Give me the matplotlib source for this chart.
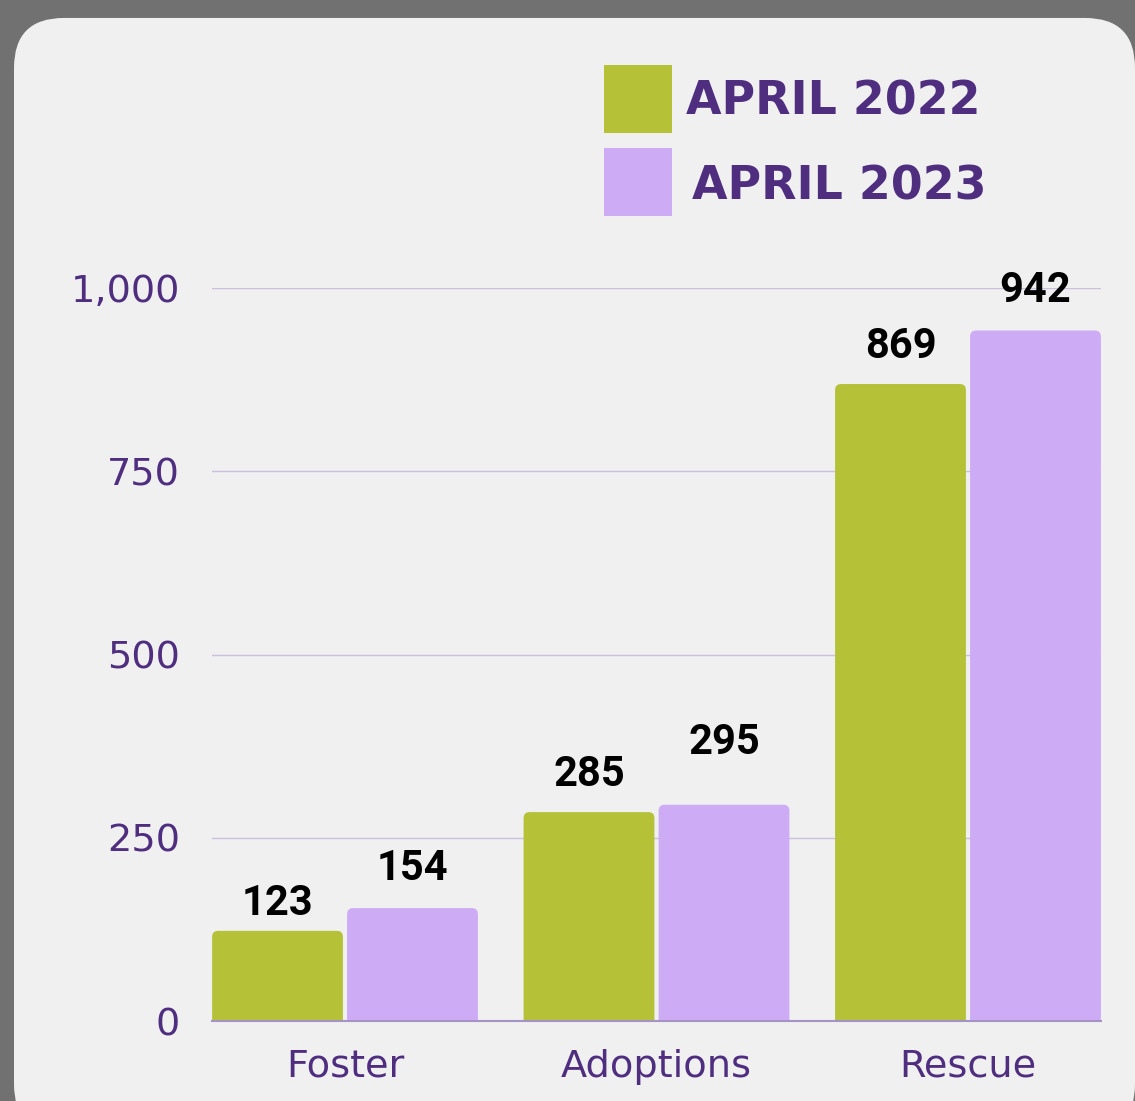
import matplotlib.pyplot as plt
from matplotlib.patches import FancyBboxPatch, Rectangle
import numpy as np

# data
categories = ["Foster", "Adoptions", "Rescue"]
april_2022 = [123, 285, 869]
april_2023 = [154, 295, 942]
series_names = ["APRIL 2022", "APRIL 2023"]
yticks = [0, 250, 500, 750, 1000]
ytick_labels = ["0", "250", "500", "750", "1,000"]

# label gaps above bars (points), placed by hand in the original
gap_2022 = [5, 12, 12]
gap_2023 = [14, 30, 14]

green = "#b5c238"
lilac = "#ceabf5"
purple = "#4f2d7f"

fig = plt.figure(figsize=(11.35, 11.01), dpi=100)
fig.patch.set_facecolor("#717171")

# rounded light panel
panel = FancyBboxPatch((14 / 1135, -0.03), 1 - 14 / 1135, 0.9837 + 0.03,
                       boxstyle="round,pad=0,rounding_size=0.044",
                       mutation_aspect=1135 / 1101,
                       transform=fig.transFigure, facecolor="#f0f0f0",
                       edgecolor="none", zorder=0)
fig.add_artist(panel)

ax = fig.add_axes([212 / 1135, 80 / 1101, 889 / 1135, 733 / 1101])
ax.set_facecolor("none")

x = np.arange(len(categories))
off = 0.2167
w = 0.42
b1 = ax.bar(x - off, april_2022, w, color=green)
b2 = ax.bar(x + off, april_2023, w, color=lilac)

ax.set_xlim(-0.427, 2.427)
ax.set_ylim(0, 1000)

# swap the square bars for ones with slightly rounded tops
xpx = 889 / (2.427 + 0.427)
ypx = 733 / 1000
for bars, col in ((b1, green), (b2, lilac)):
    for r in bars:
        r.set_visible(False)
        p = FancyBboxPatch((r.get_x(), -20), r.get_width(), r.get_height() + 20,
                           boxstyle="round,pad=0,rounding_size=%f" % (6 / xpx),
                           mutation_aspect=xpx / ypx,
                           facecolor=col, edgecolor="none", zorder=2)
        ax.add_patch(p)

for i in range(len(categories)):
    ax.annotate(str(april_2022[i]), (x[i] - off, april_2022[i]),
                xytext=(0, gap_2022[i]), textcoords="offset points",
                ha="center", va="bottom", fontsize=30, fontweight="bold",
                family=["Roboto", "DejaVu Sans"], color="black", zorder=5,
                annotation_clip=False)
    ax.annotate(str(april_2023[i]), (x[i] + off, april_2023[i]),
                xytext=(0, gap_2023[i]), textcoords="offset points",
                ha="center", va="bottom", fontsize=30, fontweight="bold",
                family=["Roboto", "DejaVu Sans"], color="black", zorder=5,
                annotation_clip=False)

ax.set_yticks(yticks)
ax.set_yticklabels(ytick_labels)
ax.set_xticks(x)
ax.set_xticklabels(categories)
ax.tick_params(axis="both", length=0, labelsize=27.5, labelcolor=purple)
ax.tick_params(axis="y", pad=23)
ax.tick_params(axis="x", pad=20)

ax.grid(axis="y", color="#cbc1dd", linewidth=1)
ax.set_axisbelow(True)
for s in ["top", "right", "left"]:
    ax.spines[s].set_visible(False)
ax.spines["bottom"].set_color("#a493c4")
ax.spines["bottom"].set_linewidth(1.5)
ax.spines["bottom"].set_zorder(3)

# legend swatches and labels
fig.add_artist(Rectangle((604 / 1135, 1 - 133 / 1101), 68 / 1135, 68 / 1101,
                         transform=fig.transFigure, facecolor=green, edgecolor="none"))
fig.add_artist(Rectangle((604 / 1135, 1 - 216 / 1101), 68 / 1135, 68 / 1101,
                         transform=fig.transFigure, facecolor=lilac, edgecolor="none"))
fig.text(686 / 1135, 1 - 102 / 1101, series_names[0], ha="left", va="center",
         fontsize=33, fontweight="bold", color=purple)
fig.text(692 / 1135, 1 - 187 / 1101, series_names[1], ha="left", va="center",
         fontsize=33, fontweight="bold", color=purple)

fig.savefig("out.png", dpi=100, facecolor=fig.get_facecolor())
